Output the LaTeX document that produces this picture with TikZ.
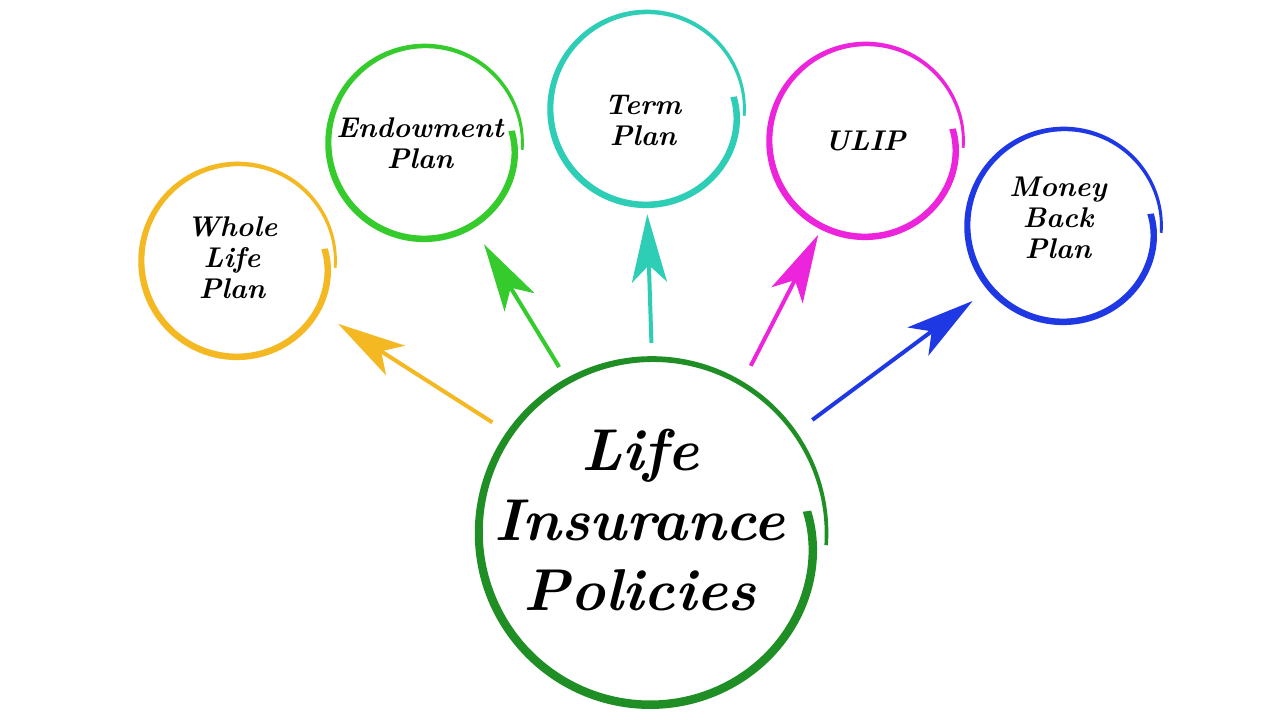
\documentclass[tikz,border=0pt]{standalone}
\usepackage{fontspec}
\usetikzlibrary{arrows.meta}
\definecolor{cyel}{HTML}{F4B822}
\definecolor{cgrn}{HTML}{35CB2C}
\definecolor{cteal}{HTML}{2ECDB5}
\definecolor{cmag}{HTML}{EC24DC}
\definecolor{cblue}{HTML}{1E38E4}
\definecolor{cbig}{HTML}{1F8F25}
\tikzset{
  ring/.style={circle, draw=none, inner sep=0pt, minimum size=#1},
  lbl/.style={font=\bfseries\itshape\fontsize{28.5}{31}\selectfont, align=center, text=black},
  biglbl/.style={font=\bfseries\itshape\fontsize{59}{70}\selectfont, align=center, text=black},
  arr/.style={line width=4pt, -{Stealth[length=68pt,width=35pt,inset=17pt]}},
}
\newcommand\handring[5]{%
  \begin{scope}[shift={(#1.center)}, #3,
      declare function={rr(\a)=#2*(1+0.015*(8-\a)/372-0.09*exp(-(8-\a)/35));
                         ww(\a)=#4-(#4-#5)*max(0,((8-\a)/372-0.45)/0.55);}]
    \fill plot[smooth, samples=150, domain=8:-364] (\x:{rr(\x)+ww(\x)/2})
      -- plot[smooth, samples=150, domain=-364:8] (\x:{rr(\x)-ww(\x)/2}) -- cycle;
  \end{scope}}
\begin{document}
\begin{tikzpicture}[x=1pt, y=1pt]
  \fill[white] (0,0) rectangle (1280,720);
  \useasboundingbox (0,0) rectangle (1280,720);
  % ring nodes
  \node[ring=344pt] (big) at (652,187) {};
  \node[ring=192pt] (wl) at (238,459) {};
  \node[ring=192pt] (en) at (425,577) {};
  \node[ring=192pt] (tp) at (647,611) {};
  \node[ring=192pt] (ul) at (866,579) {};
  \node[ring=192pt] (mb) at (1064,494) {};
  % hand drawn rings
  \handring{big}{172}{cbig}{8.5}{3.5}
  \handring{wl}{96}{cyel}{6.5}{2.8}
  \handring{en}{96}{cgrn}{6.5}{2.8}
  \handring{tp}{96}{cteal}{6.5}{2.8}
  \handring{ul}{96}{cmag}{6.5}{2.8}
  \handring{mb}{96}{cblue}{6.5}{2.8}
  % labels
  \node[biglbl] (tbig) at (640,200) {Life\\Insurance\\Policies};
  \node[lbl] (twl) at (232,462) {Whole\\Life\\Plan};
  \node[lbl] (ten) at (420,577) {Endowment\\Plan};
  \node[lbl] (ttp) at (643,599) {Term\\Plan};
  \node[lbl] (tul) at (865,579) {ULIP};
  \node[lbl] (tmb) at (1058,502) {Money\\Back\\Plan};
  % arrows
  \draw[arr, cyel, shorten <=22pt, shorten >=22pt] (big.145.5) -- (wl.-32);
  \draw[arr, cgrn, shorten <=18pt, shorten >=21pt] (big.119.7) -- (en.-60.8);
  \draw[arr, cteal, shorten <=18pt, shorten >=9pt] (big.90) -- (tp.-90);
  \draw[arr, cmag, shorten <=22pt, shorten >=9pt] (big.59.7) -- (ul.-117);
  \draw[arr, cblue, shorten <=24pt, shorten >=22pt] (big.35.2) -- (mb.-140);
\end{tikzpicture}
\end{document}
